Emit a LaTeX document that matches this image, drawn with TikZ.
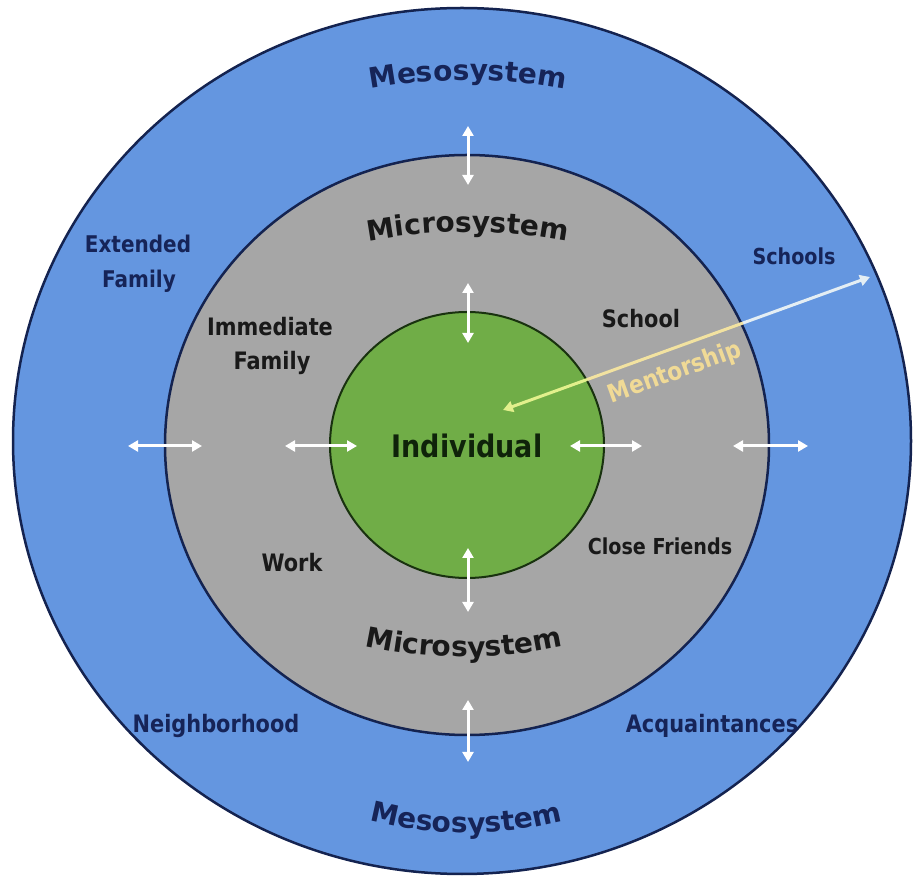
\documentclass[tikz,border=0pt]{standalone}
\usepackage{fontspec}
\setmainfont{DejaVu Sans}
\newfontfamily\labfont{DejaVu Sans}[FakeStretch=0.87]
\usetikzlibrary{arrows.meta,decorations.text,calc}
\definecolor{mesoblue}{RGB}{100,150,224}
\definecolor{microgray}{RGB}{166,166,166}
\definecolor{indgreen}{RGB}{112,173,71}
\definecolor{navyline}{RGB}{20,35,80}
\definecolor{greenline}{RGB}{25,50,15}
\definecolor{navytext}{RGB}{22,36,88}
\definecolor{darktext}{RGB}{25,25,25}
\definecolor{indtext}{RGB}{15,35,10}
\definecolor{mentW}{RGB}{228,238,244}
\definecolor{mentY}{RGB}{242,226,160}
\definecolor{mentG}{RGB}{226,240,140}
\definecolor{mentT}{RGB}{240,218,150}
\begin{document}
\begin{tikzpicture}[x=1pt,y=1pt,
  ringline/.style={line width=2.5pt},
  link/.style={draw=white, line width=3pt,
    {Triangle[length=10pt,width=11pt]}-{Triangle[length=10pt,width=11pt]}},
  ment/.style={line width=3pt},
  lab/.style={font=\labfont\bfseries\fontsize{24}{29}\selectfont, inner sep=0pt, anchor=base},
]
\useasboundingbox (0,0) rectangle (913,881);
\fill[white] (0,0) rectangle (913,881);
% rings
\filldraw[fill=mesoblue, draw=navyline, ringline] (462,440) ellipse[x radius=449, y radius=433];
\filldraw[fill=microgray, draw=navyline, ringline] (467,436) ellipse[x radius=302, y radius=290];
\filldraw[fill=indgreen, draw=greenline, line width=2pt] (467,436) ellipse[x radius=137, y radius=133];

% curved titles
\path[decorate, decoration={text along path, text align=center,
  text={|\bfseries\fontsize{28}{34}\selectfont\color{navytext}|Mesosystem}}]
  ($(468,268)+(105:533)$) arc[start angle=105, end angle=75, radius=533];
\path[decorate, decoration={text along path, text align=center,
  text={|\bfseries\fontsize{28}{34}\selectfont\color{darktext}|Microsystem}}]
  ($(468,109)+(106:540)$) arc[start angle=106, end angle=74, radius=540];
\path[decorate, decoration={text along path, text align=center,
  text={|\bfseries\fontsize{28}{34}\selectfont\color{darktext}|Microsystem}}]
  ($(464,684)+(250:460)$) arc[start angle=250, end angle=290, radius=460];
\path[decorate, decoration={text along path, text align=center,
  text={|\bfseries\fontsize{28}{34}\selectfont\color{navytext}|Mesosystem}}]
  ($(466,432)+(245:384)$) arc[start angle=245, end angle=295, radius=384];

% arrow end points
\coordinate (tOa) at (468,755); \coordinate (tOb) at (468,696);
\coordinate (tIa) at (468,598); \coordinate (tIb) at (468,538);
\coordinate (bIa) at (468,333); \coordinate (bIb) at (468,269);
\coordinate (bOa) at (468,181); \coordinate (bOb) at (468,119);
\coordinate (lOa) at (128,435); \coordinate (lOb) at (202,435);
\coordinate (lIa) at (285,435); \coordinate (lIb) at (357,435);
\coordinate (rIa) at (570,435); \coordinate (rIb) at (642,435);
\coordinate (rOa) at (733,435); \coordinate (rOb) at (808,435);
\draw[link] (tOa) -- (tOb);
\draw[link] (tIa) -- (tIb);
\draw[link] (bIa) -- (bIb);
\draw[link] (bOa) -- (bOb);
\draw[link] (lOa) -- (lOb);
\draw[link] (lIa) -- (lIb);
\draw[link] (rIa) -- (rIb);
\draw[link] (rOa) -- (rOb);

% mentorship arrow
\coordinate (mS) at (870,604);
\coordinate (mI) at (503,471);
\coordinate (mB) at ($(mI)!0.654!(mS)$);
\coordinate (mG) at ($(mI)!0.229!(mS)$);
\draw[ment, mentY] (mG) -- (mB);
\draw[ment, mentW, -{Triangle[length=10pt,width=11pt]}] (mB) -- (mS);
\draw[ment, mentG, -{Triangle[length=10pt,width=11pt]}] (mG) -- (mI);
\node[font=\labfont\bfseries\fontsize{25}{30}\selectfont, text=mentT, inner sep=0pt, rotate=19.9] (ment) at (675,508) {Mentorship};

% labels
\node[lab, text=navytext, font=\labfont\bfseries\fontsize{23}{28}\selectfont] (ext1) at (138,628) {Extended};
\node[lab, text=navytext, font=\labfont\bfseries\fontsize{23}{28}\selectfont] (ext2) at (139,593) {Family};
\node[lab, text=darktext] (imm1) at (270,545) {Immediate};
\node[lab, text=darktext] (imm2) at (272,511) {Family};
\node[lab, text=darktext] (school) at (641,553) {School};
\node[lab, text=navytext, font=\labfont\bfseries\fontsize{22}{26}\selectfont] (schools) at (794,616) {Schools};
\node[lab, text=darktext, font=\labfont\bfseries\fontsize{22}{26}\selectfont] (close) at (660,326) {Close Friends};
\node[lab, text=darktext] (work) at (292,309) {Work};
\node[lab, text=indtext, font=\labfont\bfseries\fontsize{31}{36}\selectfont] (ind) at (467,423) {Individual};
\node[lab, text=navytext] (neigh) at (216,148) {Neighborhood};
\node[lab, text=navytext] (acq) at (712,148) {Acquaintances};
\end{tikzpicture}
\end{document}
